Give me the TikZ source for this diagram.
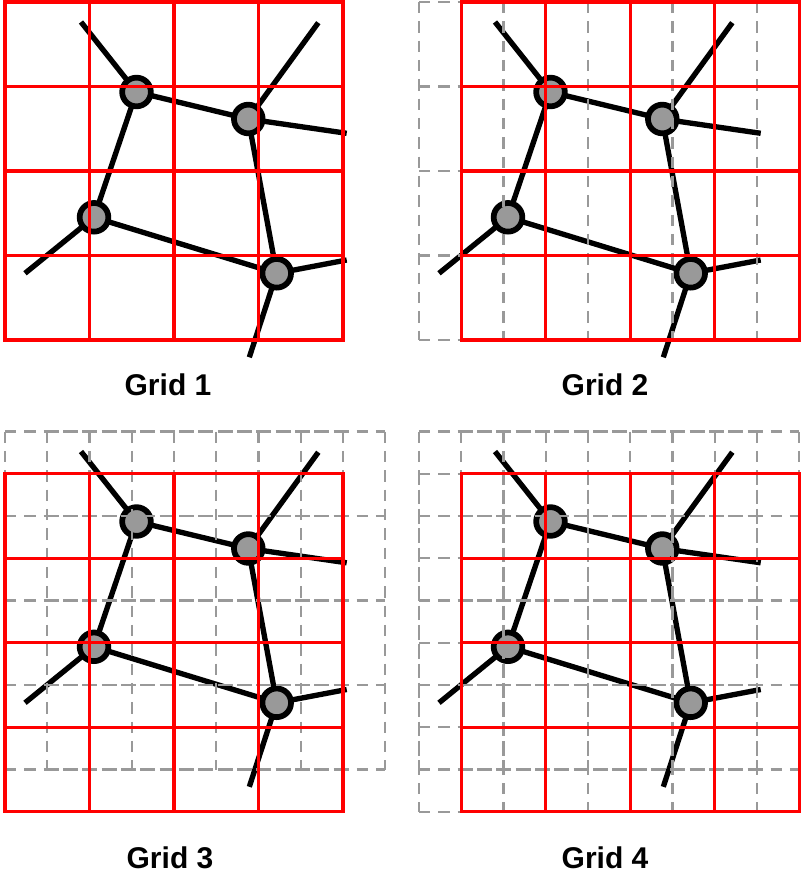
\documentclass[tikz,border=0pt]{standalone}
\usepackage{fontspec}
\setmainfont{Liberation Sans}
\pgfdeclarelayer{edges}
\pgfdeclarelayer{grids}
\pgfsetlayers{edges,main,grids}
\definecolor{nodegray}{HTML}{999999}
\definecolor{dashgray}{HTML}{999999}
\definecolor{gridred}{HTML}{FF0000}
\tikzset{
  vtx/.style={circle, draw=black, fill=nodegray, line width=4.3pt, minimum size=21.5pt, inner sep=0pt},
  link/.style={line width=4pt, black},
  redgrid/.style={line width=2.5pt, gridred, line cap=rect},
  dgrid/.style={line width=1.7pt, dashgray, dash pattern=on 8.5pt off 6pt},
  gridlabel/.style={font=\fontsize{22.5}{27}\selectfont\bfseries, anchor=base, inner sep=0pt}
}
\newcommand\drawnet[3]{%
  \begin{scope}[shift={(#2,#3)}]
    \coordinate (#1a1) at (81,22);
    \coordinate (#1b1) at (318.3,22.7);
    \coordinate (#1b2) at (346.7,133.3);
    \coordinate (#1c1) at (25,273.3);
    \coordinate (#1d1) at (346.7,260);
    \coordinate (#1d2) at (249.3,357.3);
    \node[vtx] (#1A) at (136.5,92) {};
    \node[vtx] (#1B) at (248.3,119) {};
    \node[vtx] (#1C) at (94,217.3) {};
    \node[vtx] (#1D) at (276.7,273.3) {};
    \begin{pgfonlayer}{edges}
      \draw[link] (#1A.center) -- (#1B.center);
      \draw[link] (#1A.center) -- (#1C.center);
      \draw[link] (#1B.center) -- (#1D.center);
      \draw[link] (#1C.center) -- (#1D.center);
      \draw[link] (#1A.center) -- (#1a1);
      \draw[link] (#1B.center) -- (#1b1);
      \draw[link] (#1B.center) -- (#1b2);
      \draw[link] (#1C.center) -- (#1c1);
      \draw[link] (#1D.center) -- (#1d1);
      \draw[link] (#1D.center) -- (#1d2);
    \end{pgfonlayer}
  \end{scope}}
% #1 x0, #2 y0, #3 style
\newcommand\gridlines[3]{%
  \begin{pgfonlayer}{grids}
  \foreach \i in {0,...,4}{%
    \draw[#3] ({#1+\i*84.5},#2) -- ++(0,338);
    \draw[#3] (#1,{#2+\i*84.5}) -- ++(338,0);
  }
  \end{pgfonlayer}}
\begin{document}
\begin{tikzpicture}[x=0.75pt,y=-0.75pt]
  \useasboundingbox (0,0) rectangle (800,877);
  % Grid 1
  \drawnet{p}{0}{0}
  \gridlines{5}{2}{redgrid}
  \node[gridlabel] (t1) at (168,395) {Grid 1};
  % Grid 2
  \drawnet{q}{414}{0}
  \gridlines{419}{2}{dgrid}
  \gridlines{461.25}{2}{redgrid}
  \node[gridlabel] (t2) at (605,395) {Grid 2};
  % Grid 3
  \drawnet{r}{0}{429.5}
  \gridlines{5}{431.5}{dgrid}
  \gridlines{47.25}{431.5}{dgrid}
  \gridlines{5}{473.75}{redgrid}
  \node[gridlabel] (t3) at (170,868) {Grid 3};
  % Grid 4
  \drawnet{s}{414}{429.5}
  \gridlines{419}{431.5}{dgrid}
  \gridlines{461.25}{431.5}{dgrid}
  \gridlines{419}{473.75}{dgrid}
  \gridlines{461.25}{473.75}{redgrid}
  \node[gridlabel] (t4) at (605,868) {Grid 4};
\end{tikzpicture}
\end{document}
